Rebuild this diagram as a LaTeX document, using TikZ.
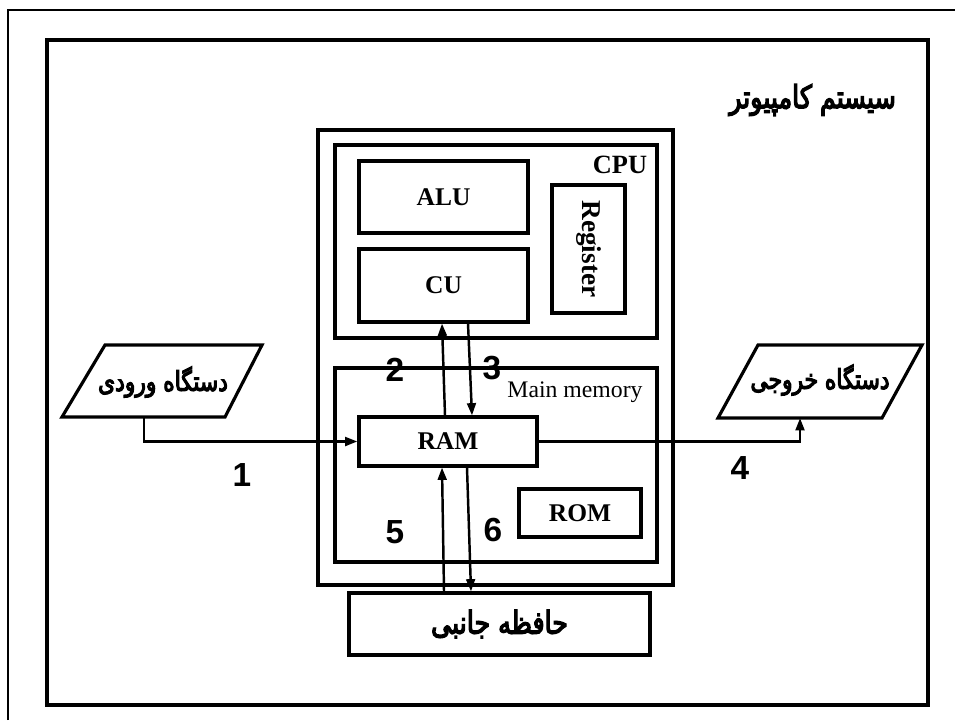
\documentclass[tikz,border=0pt]{standalone}
\usepackage{fontspec}
\setmainfont{Liberation Serif}
\newfontfamily\arabicfont[Script=Arabic, FakeBold=4, FakeStretch=0.8]{DejaVu Sans}
\newfontfamily\numfont{Liberation Sans}
\TeXXeTstate=1
\usetikzlibrary{arrows.meta,calc}
\begin{document}
\begin{tikzpicture}[x=0.02cm,y=-0.02cm,
  blk/.style={draw, line width=1.8pt, inner sep=0pt, font=\fontsize{14.5}{17}\selectfont\bfseries},
  arr/.style={line width=1.4pt, -{Triangle[length=7pt,width=5pt]}},
  num/.style={font=\numfont\fontsize{19}{22}\selectfont\bfseries},
  fa/.style={font=\arabicfont\fontsize{15.5}{18}\selectfont},
  fabig/.style={font=\arabicfont\fontsize{18}{21}\selectfont},
  para/.style={line width=1.8pt, line join=miter}]
\useasboundingbox (0,0) rectangle (955,720);
% outer frames
\draw[line width=0.8pt] (8,720) -- (8,10) -- (955,10);
\draw[line width=2.8pt] (47,40) rectangle (928,705);
\node[fabig, anchor=east] (title) at (902,100) {\beginR سیستم کامپیوتر\endR};
% computer box
\node[blk, minimum width=7.1cm, minimum height=9.1cm] (comp) at (495.5,357.5) {};
\node[blk, minimum width=6.44cm, minimum height=3.86cm] (cpu) at (496,241.5) {};
\node[font=\fontsize{15}{18}\selectfont\bfseries] (cpulbl) at (620,165) {CPU};
\node[blk, minimum width=3.38cm, minimum height=1.44cm] (alu) at (443.5,197) {ALU};
\node[blk, minimum width=3.38cm, minimum height=1.46cm] (cu) at (443.5,285.5) {CU};
\node[blk, rotate=-90, minimum width=2.56cm, minimum height=1.46cm, font=\fontsize{15.5}{18}\selectfont\bfseries] (reg) at (588.5,249) {Register};
\node[blk, minimum width=6.44cm, minimum height=3.88cm] (mm) at (496,465) {};
\node[font=\fontsize{13.5}{16}\selectfont] (mmlbl) at (575,392) {Main memory};
\node[blk, minimum width=3.56cm, minimum height=0.98cm] (ram) at (448,441.5) {RAM};
\node[blk, minimum width=2.44cm, minimum height=0.96cm] (rom) at (580,513) {ROM};
\node[blk, fabig, minimum width=6.02cm, minimum height=1.24cm] (sec) at (499.5,624) {\beginR حافظه جانبی\endR};
% input / output devices
\draw[para] (105,345) -- (262,345) -- (225,417) -- (62,417) -- cycle;
\node[fa] (intext) at (163,382) {\beginR دستگاه ورودی\endR};
\coordinate (inb) at (144,417);
\draw[para] (758,345) -- (922,345) -- (882,418) -- (718,418) -- cycle;
\node[fa] (outtext) at (820,380) {\beginR دستگاه خروجی\endR};
\coordinate (outb) at (800,418);
% connectors
\draw[arr] (inb) |- (ram.west);
\draw[arr] (ram.east) -| (outb);
\draw[arr] ($(ram.north)+(-3,0)$) -- ($(cu.south)+(-1.5,0)$);
\draw[arr] ($(cu.south)+(24.5,0)$) -- ($(ram.north)+(24,0)$);
\draw[arr] ($(sec.north)+(-55.5,0)$) -- ($(ram.south)+(-6,0)$);
\draw[arr] ($(ram.south)+(19,0)$) -- ($(sec.north)+(-28.5,0)$);
% numbers
\node[num] (n1) at (242,475) {1};
\node[num] (n2) at (395,370) {2};
\node[num] (n3) at (492,368) {3};
\node[num] (n4) at (740,468) {4};
\node[num] (n5) at (395,532) {5};
\node[num] (n6) at (493,530) {6};
\end{tikzpicture}
\end{document}
